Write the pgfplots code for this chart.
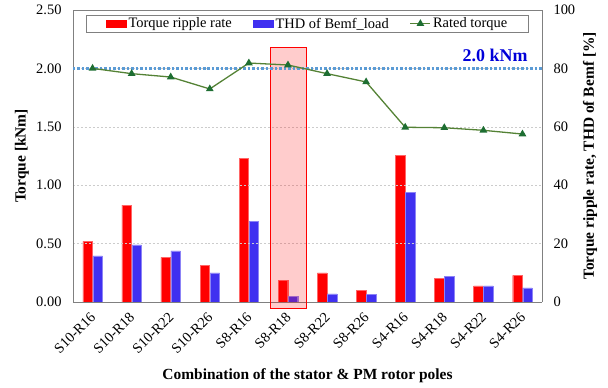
\documentclass[border=0pt]{standalone}
\usepackage{graphicx}
\usepackage{pgfplots}
\pgfplotsset{compat=1.18}
\usepackage{fontspec}
\setmainfont{Liberation Serif}
\definecolor{rred}{RGB}{255,0,0}
\definecolor{bblue}{RGB}{64,48,240}
\definecolor{gline}{RGB}{84,130,53}
\definecolor{gmark}{RGB}{30,110,50}
\definecolor{dblue}{RGB}{91,155,213}
\definecolor{axgray}{RGB}{128,128,128}
\newcommand{\rl}[1]{\rotatebox{45}{#1}}
\begin{document}
\begin{tikzpicture}[x=1bp,y=1bp]
\pgfplotsset{
  base/.style={
    width=469bp, height=292bp, scale only axis,
    at={(0,0)}, anchor=south west,
    xmin=-0.5, xmax=11.5,
    xtick={0,...,11},
    axis line style={axgray, line width=0.8pt},
    tick style={draw=none},
    /pgf/number format/assume math mode=true,
    yticklabel style={font=\fontsize{14.5}{15}\selectfont},
    label style={font=\bfseries\fontsize{15.5}{16}\selectfont},
  }
}
% right axis: bars
\begin{axis}[base,
  axis x line=none,
  axis y line*=right,
  ymin=0, ymax=100, ytick={0,20,...,100},
  ylabel={Torque ripple rate, THD of Bemf [\%]},
  ylabel style={at={(axis description cs:1.1023,0.5)}, anchor=center},
  ybar, bar width=9.5bp,
  yticklabel shift=8bp,
]
\addplot[fill=rred, draw=rred!60, bar shift=-5bp] coordinates {
(0,20.8) (1,33.2) (2,15.3) (3,12.6) (4,49.1) (5,7.3) (6,10.0) (7,4.1) (8,50.2) (9,8.1) (10,5.5) (11,9.1)};
\addplot[fill=bblue, draw=bblue!60, bar shift=5bp] coordinates {
(0,15.8) (1,19.6) (2,17.5) (3,10.0) (4,27.6) (5,2.0) (6,2.8) (7,2.6) (8,37.6) (9,8.8) (10,5.5) (11,4.8)};
\end{axis}
% left axis: line
\begin{axis}[base,
  axis y line*=left,
  axis x line*=box,
  ymin=0, ymax=2.5, ytick={0,0.5,...,2.5},
  yticklabel={\pgfmathprintnumber[fixed,fixed zerofill,precision=2]{\tick}},
  ymajorgrids, grid style={dash pattern=on 2pt off 2pt, gray!40, line width=0.6pt},
  xticklabels={\rl{S10-R16},\rl{S10-R18},\rl{S10-R22},\rl{S10-R26},\rl{S8-R16},\rl{S8-R18},\rl{S8-R22},\rl{S8-R26},\rl{S4-R16},\rl{S4-R18},\rl{S4-R22},\rl{S4-R26}},
  xticklabel style={font=\fontsize{14.5}{15}\selectfont, anchor=north east, inner sep=0pt, xshift=4bp},
  xticklabel shift=9bp,
  yticklabel shift=8bp,
  ylabel={Torque [kNm]},
  ylabel style={at={(axis description cs:-0.1087,0.5)}, anchor=center},
  xlabel={Combination of the stator \& PM rotor poles},
  xlabel style={at={(axis description cs:0.5,-0.2534)}, anchor=center},
  clip=false,
  legend style={at={(0.5,0.983)}, anchor=north, legend columns=3, draw=axgray, line width=0.8pt,
    font=\fontsize{14.5}{15}\selectfont, /tikz/every even column/.append style={column sep=19bp},
    inner xsep=19bp, inner ysep=0.5bp},
  legend cell align=left,
]
\addlegendimage{legend image code/.code={\fill[rred] (0bp,-3.5bp) rectangle (20bp,3.5bp);}}
\addlegendentry{Torque ripple rate}
\addlegendimage{legend image code/.code={\fill[bblue] (0bp,-3.5bp) rectangle (20bp,3.5bp);}}
\addlegendentry{THD of Bemf\_load}
% highlight rectangle
\fill[rred, fill opacity=0.2] (axis cs:4.54,-0.051) rectangle (axis cs:5.46,2.183);
\draw[rred, line width=0.8pt] (axis cs:4.54,-0.051) rectangle (axis cs:5.46,2.183);
\addplot[dblue, line width=2.5pt, dash pattern=on 2.5pt off 2pt, forget plot] coordinates {(-0.5,2.0) (11.5,2.0)};
\addplot[gline, line width=1.3pt, mark=triangle*, mark size=3.2bp, mark options={gmark, solid},
  legend image code/.code={\draw[gline, line width=1.3pt] (0bp,0bp) -- (20bp,0bp); \fill[gmark] (10bp,0bp) +(90:3.2bp) -- +(210:3.2bp) -- +(330:3.2bp) -- cycle;}] coordinates {
(0,2.000) (1,1.955) (2,1.926) (3,1.824) (4,2.046) (5,2.029) (6,1.955) (7,1.884) (8,1.496) (9,1.492) (10,1.470) (11,1.438)};
\addlegendentry{Rated torque}
\node[text=blue!85!black, font=\bfseries\fontsize{18}{19}\selectfont] at (axis cs:10.3,2.115) {2.0 kNm};
\end{axis}
\pgfresetboundingbox
\path[use as bounding box] (-73,-85) rectangle (535,302);
\end{tikzpicture}
\end{document}
